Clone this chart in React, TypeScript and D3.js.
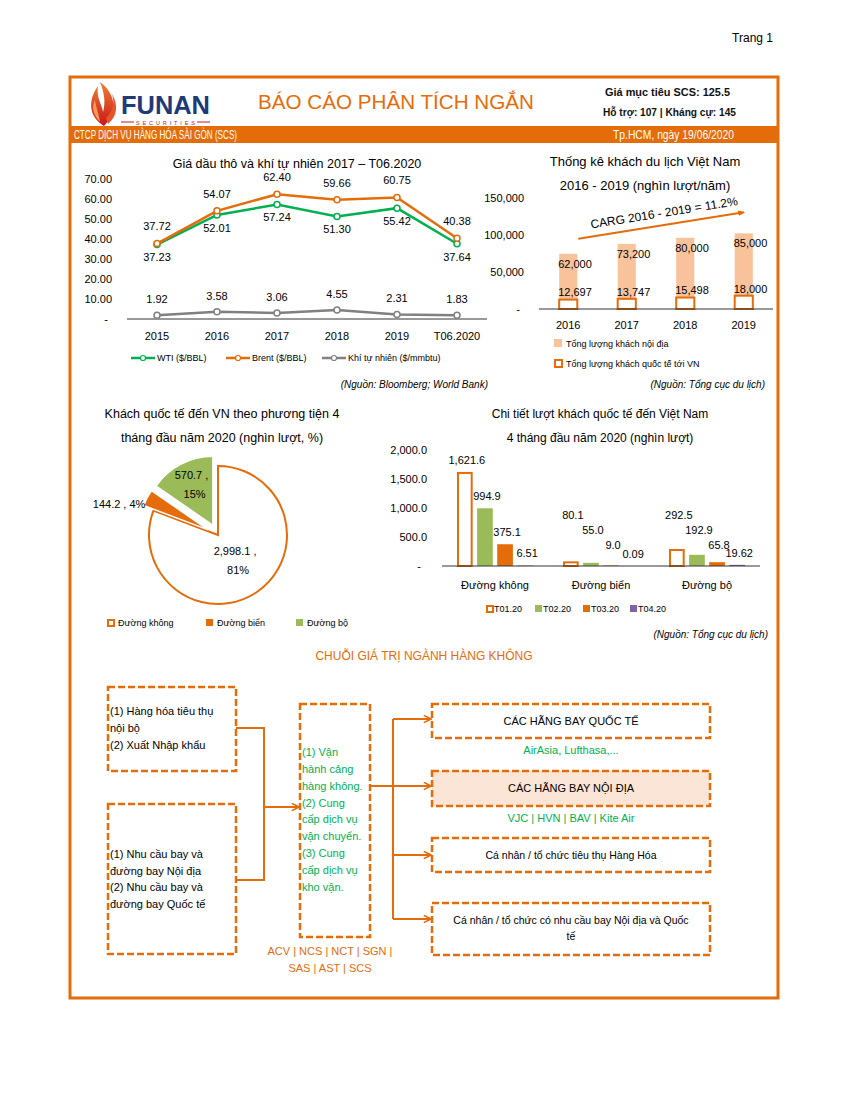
import * as d3 from 'd3'

const FONT = "'Liberation Sans', Arial, sans-serif"
const ORANGE = '#E46C0A'
const GREEN_LINE = '#00B050'
const GREEN_BAR = '#9BBB59'
const PURPLE = '#8064A2'
const PEACH = '#F8C39B'
const GRAY = '#808080'

// --- oil & gas prices
const oilYears = ['2015', '2016', '2017', '2018', '2019', 'T06.2020']
const wti = [37.23, 52.01, 57.24, 51.3, 55.42, 37.64]
const brent = [37.72, 54.07, 62.4, 59.66, 60.75, 40.38]
const gas = [1.92, 3.58, 3.06, 4.55, 2.31, 1.83]
const oilTicks = [0, 10, 20, 30, 40, 50, 60, 70]

// --- tourists 2016-2019
const touristYears = ['2016', '2017', '2018', '2019']
const domestic = [62000, 73200, 80000, 85000]
const international = [12697, 13747, 15498, 18000]
const touristTicks = [0, 50000, 100000, 150000]

// --- pie by transport mode
const pieLabels = ['Đường không', 'Đường biển', 'Đường bộ']
const pieValues = [2998.1, 144.2, 570.7]
const piePct = ['81%', '4%', '15%']

// --- monthly by mode
const modes = ['Đường không', 'Đường biển', 'Đường bộ']
const monthSeries = ['T01.20', 'T02.20', 'T03.20', 'T04.20']
const t01 = [1621.6, 80.1, 292.5]
const t02 = [994.9, 55.0, 192.9]
const t03 = [375.1, 9.0, 65.8]
const t04 = [6.51, 0.09, 19.62]
const monthTicks = [0, 500, 1000, 1500, 2000]

// --- value chain text
const boxA = ['(1) Hàng hóa tiêu thụ', 'nội bộ', '(2) Xuất Nhập khẩu']
const boxB = ['(1) Nhu cầu bay và', 'đường bay Nội địa', '(2) Nhu cầu bay và', 'đường bay Quốc tế']
const boxC = ['(1) Vận', 'hành cảng', 'hàng không.', '(2) Cung', 'cấp dịch vụ', 'vận chuyển.', '(3) Cung', 'cấp dịch vụ', 'kho vận.']
const boxCTickers = ['ACV | NCS | NCT | SGN |', 'SAS | AST | SCS']
const rightBoxes = [
  ['CÁC HÃNG BAY QUỐC TẾ'],
  ['CÁC HÃNG BAY NỘI ĐỊA'],
  ['Cá nhân / tổ chức tiêu thụ Hàng Hóa'],
  ['Cá nhân / tổ chức có nhu cầu bay Nội địa và Quốc', 'tế'],
]
const rightNotes = ['AirAsia, Lufthasa,...', 'VJC | HVN | BAV | Kite Air', '', '']

function T(props: any) {
  const { children, size = 11, anchor = 'start', fill = '#000', weight = 'normal', style, ...rest } = props
  return (
    <text
      fontFamily={FONT}
      fontSize={size}
      textAnchor={anchor}
      fill={fill}
      fontWeight={weight}
      fontStyle={style}
      dy="0.35em"
      {...rest}
    >
      {children}
    </text>
  )
}

function Header() {
  return (
    <g>
      <T x={773} y={38} size={12} anchor="end">Trang 1</T>
      <rect x={70} y={77} width={708} height={921} fill="none" stroke={ORANGE} strokeWidth={3} />
      {/* logo flame */}
      <defs>
        <linearGradient id="flame" x1="0" y1="1" x2="0" y2="0">
          <stop offset="0" stopColor="#C8161D" />
          <stop offset="1" stopColor="#F08030" />
        </linearGradient>
      </defs>
      <path d="M104,126 C88,116 88,100 98,86 C96,98 102,104 103,112 C106,102 104,92 100,82 C116,94 118,112 104,126 Z" fill="url(#flame)" />
      <path d="M108,124 C118,116 118,104 112,94 C116,106 110,114 106,118 Z" fill="#E8542A" />
      <path d="M100,122 C92,114 92,106 95,100 C96,108 99,114 100,122 Z" fill="#F39A5A" />
      <text x={121} y={114} fontFamily={FONT} fontSize={26} fontWeight="bold" fill="#1E3A78" textLength={89} lengthAdjust="spacingAndGlyphs">FUNAN</text>
      <line x1={121} x2={134} y1={122} y2={122} stroke="#C8161D" strokeWidth={1} />
      <line x1={197} x2={210} y1={122} y2={122} stroke="#C8161D" strokeWidth={1} />
      <text x={136} y={124.5} fontFamily={FONT} fontSize={5.5} fill="#C8161D" textLength={59} lengthAdjust="spacing">SECURITIES</text>
      <text x={258} y={109} fontFamily={FONT} fontSize={20} fill={ORANGE} textLength={276} lengthAdjust="spacingAndGlyphs">BÁO CÁO PHÂN TÍCH NGẮN</text>
      <text x={605} y={96} fontFamily={FONT} fontSize={11} fontWeight="bold" fill="#111" textLength={125} lengthAdjust="spacingAndGlyphs">Giá mục tiêu SCS: 125.5</text>
      <text x={603} y={116} fontFamily={FONT} fontSize={11} fontWeight="bold" fill="#111" textLength={133} lengthAdjust="spacingAndGlyphs">Hỗ trợ: 107 | Kháng cự: 145</text>
      <rect x={70} y={126} width={708} height={17} fill={ORANGE} />
      <text x={74} y={139} fontFamily={FONT} fontSize={12} fill="#fff" textLength={163} lengthAdjust="spacingAndGlyphs">CTCP DỊCH VỤ HÀNG HÓA SÀI GÒN (SCS)</text>
      <text x={734} y={139} fontFamily={FONT} fontSize={12} fill="#fff" textAnchor="end" textLength={121} lengthAdjust="spacingAndGlyphs">Tp.HCM, ngày 19/06/2020</text>
    </g>
  )
}

function OilChart() {
  const x = d3.scaleBand().domain(oilYears).range([127, 487])
  const cx = (i: number) => (x(oilYears[i]) ?? 0) + x.bandwidth() / 2
  const y = d3.scaleLinear().domain([0, 70]).range([319, 179])
  const line = d3.line<number>().x((_, i) => cx(i)).y((d) => y(d))
  const fmt = d3.format('.2f')
  const series = [
    { name: 'Khí tự nhiên ($/mmbtu)', values: gas, color: GRAY, dy: -16 },
    { name: 'WTI ($/BBL)', values: wti, color: GREEN_LINE, dy: 13 },
    { name: 'Brent ($/BBL)', values: brent, color: ORANGE, dy: -17 },
  ]
  const legend = [series[1], series[2], series[0]]
  return (
    <g>
      <T x={297} y={164} size={12.5} anchor="middle">Giá dầu thô và khí tự nhiên 2017 – T06.2020</T>
      {oilTicks.map((t) => (
        <T key={t} x={t === 0 ? 108 : 112} y={y(t)} size={11} anchor="end">{t === 0 ? '-' : fmt(t)}</T>
      ))}
      <line x1={127} x2={487} y1={y(0)} y2={y(0)} stroke="#333" strokeWidth={1} />
      {oilYears.map((yr, i) => (
        <T key={yr} x={cx(i)} y={336} size={11} anchor="middle">{yr}</T>
      ))}
      {series.map((s) => (
        <g key={s.name}>
          <path d={line(s.values) ?? ''} fill="none" stroke={s.color} strokeWidth={2.5} />
          {s.values.map((v, i) => (
            <circle key={i} cx={cx(i)} cy={y(v)} r={3} fill="#fff" stroke={s.color} strokeWidth={1.5} />
          ))}
        </g>
      ))}
      {series.map((s) =>
        s.values.map((v, i) => (
          <T key={s.name + i} x={cx(i)} y={y(v) + s.dy} size={11} anchor="middle">{fmt(v)}</T>
        )),
      )}
      {legend.map((s, i) => {
        const lx = [131, 226, 322][i]
        return (
          <g key={s.name}>
            <line x1={lx} x2={lx + 24} y1={358} y2={358} stroke={s.color} strokeWidth={2.5} />
            <circle cx={lx + 12} cy={358} r={2.5} fill="#fff" stroke={s.color} strokeWidth={1.2} />
            <T x={lx + 26} y={358} size={9}>{s.name}</T>
          </g>
        )
      })}
      <T x={488} y={384} size={10} anchor="end" style="italic">(Nguồn: Bloomberg; World Bank)</T>
    </g>
  )
}

function TouristChart() {
  const x = d3.scaleBand().domain(touristYears).range([539, 773])
  const bw = x.step() * 0.31
  const cx = (i: number) => (x(touristYears[i]) ?? 0) + x.bandwidth() / 2
  const y = d3.scaleLinear().domain([0, 150000]).range([309, 198])
  // domestic series sits on a hidden secondary axis
  const y2 = d3.scaleLinear().domain([0, 100000]).range([309, 220])
  const fmt = d3.format(',')
  const arrowEnd = { x: cx(3), y: y2(domestic[3]) - 21 }
  const arrowStart = { x: cx(0) + 10, y: y2(domestic[0]) - 15 }
  const ang = (Math.atan2(arrowEnd.y - arrowStart.y, arrowEnd.x - arrowStart.x) * 180) / Math.PI
  return (
    <g>
      <T x={645} y={161} size={13} anchor="middle">Thống kê khách du lịch Việt Nam</T>
      <T x={645} y={185} size={13} anchor="middle">2016 - 2019 (nghìn lượt/năm)</T>
      {touristTicks.map((t) => (
        <T key={t} x={t === 0 ? 520 : 524} y={y(t)} size={11} anchor="end">{t === 0 ? '-' : fmt(t)}</T>
      ))}
      {domestic.map((v, i) => (
        <rect key={'d' + i} x={cx(i) - bw / 2} y={y2(v)} width={bw} height={y2(0) - y2(v)} fill={PEACH} />
      ))}
      {international.map((v, i) => (
        <rect key={'n' + i} x={cx(i) - bw / 2} y={y(v)} width={bw} height={y(0) - y(v)} fill="#fff" stroke={ORANGE} strokeWidth={2} />
      ))}
      <line x1={539} x2={773} y1={y(0)} y2={y(0)} stroke="#333" strokeWidth={1} />
      {domestic.map((v, i) => (
        <T key={'dl' + i} x={cx(i) - bw / 2 - 1} y={y2(v) + 10} size={11}>{fmt(v)}</T>
      ))}
      {international.map((v, i) => (
        <T key={'nl' + i} x={cx(i) - bw / 2 - 1} y={y(v) - 7} size={11}>{fmt(v)}</T>
      ))}
      {touristYears.map((yr, i) => (
        <T key={yr} x={cx(i)} y={325} size={11} anchor="middle">{yr}</T>
      ))}
      <defs>
        <marker id="tri" viewBox="0 0 10 10" refX={8} refY={5} markerWidth={7} markerHeight={7} orient="auto" markerUnits="userSpaceOnUse">
          <path d="M0,1 L10,5 L0,9 Z" fill={ORANGE} />
        </marker>
      </defs>
      <line x1={arrowStart.x} y1={arrowStart.y} x2={arrowEnd.x} y2={arrowEnd.y} stroke={ORANGE} strokeWidth={2} markerEnd="url(#tri)" />
      <T x={0} y={0} size={12} anchor="middle" transform={`translate(664,${(arrowStart.y + arrowEnd.y) / 2 - 13}) rotate(${ang})`}>CARG 2016 - 2019 = 11.2%</T>
      <rect x={554} y={339} width={8} height={8} fill={PEACH} />
      <T x={566} y={344} size={9}>Tổng lượng khách nội địa</T>
      <rect x={555} y={360} width={7} height={7} fill="#fff" stroke={ORANGE} strokeWidth={2} />
      <T x={566} y={364} size={9}>Tổng lượng khách quốc tế tới VN</T>
      <T x={765} y={384} size={10} anchor="end" style="italic">(Nguồn: Tổng cục du lịch)</T>
    </g>
  )
}

function PieChart() {
  const c = { x: 218, y: 535 }
  const r = 69
  const arcs = d3.pie<number>().sort(null).value((d) => d)(pieValues)
  const arc = d3.arc<d3.PieArcDatum<number>>().innerRadius(0).outerRadius(r)
  const explode = [0, 11, 11]
  const fills = ['#fff', ORANGE, GREEN_BAR]
  const strokes = [ORANGE, '#fff', '#fff']
  const fmt = d3.format(',.1f')
  const dir = (a: d3.PieArcDatum<number>) => {
    const m = (a.startAngle + a.endAngle) / 2
    return [Math.sin(m), -Math.cos(m)]
  }
  return (
    <g>
      <T x={222} y={414} size={12.5} anchor="middle">Khách quốc tế đến VN theo phương tiện 4</T>
      <T x={222} y={438} size={12.5} anchor="middle">tháng đầu năm 2020 (nghìn lượt, %)</T>
      {arcs.map((a, i) => {
        const [dx, dy] = dir(a)
        return (
          <path
            key={i}
            d={arc(a) ?? ''}
            transform={`translate(${c.x + dx * explode[i]},${c.y + dy * explode[i]})`}
            fill={fills[i]}
            stroke={strokes[i]}
            strokeWidth={i === 0 ? 2 : 1.5}
          />
        )
      })}
      {arcs.map((a, i) => {
        const [dx, dy] = dir(a)
        if (i === 1) {
          return (
            <T key={i} x={c.x + dx * 82} y={c.y + dy * 82 + 7} size={11} anchor="end">
              {`${fmt(a.data)} , ${piePct[i]}`}
            </T>
          )
        }
        const rr = i === 0 ? 30 : 46
        const lx = c.x + dx * (rr + explode[i])
        const ly = c.y + dy * (rr + explode[i])
        return (
          <g key={i}>
            <T x={lx} y={ly - 9} size={11} anchor="middle">{`${fmt(a.data)} ,`}</T>
            <T x={lx + 3} y={ly + 10} size={11} anchor="middle">{piePct[i]}</T>
          </g>
        )
      })}
      {pieLabels.map((l, i) => {
        const lx = [107, 206, 296][i]
        return (
          <g key={l}>
            {i === 0 ? (
              <rect x={lx + 1} y={620} width={6} height={6} fill="#fff" stroke={ORANGE} strokeWidth={2} />
            ) : (
              <rect x={lx} y={619} width={7} height={7} fill={fills[i]} />
            )}
            <T x={lx + 11} y={623} size={9}>{l}</T>
          </g>
        )
      })}
    </g>
  )
}

function MonthChart() {
  const x = d3.scaleBand().domain(modes).range([442, 760])
  const inner = d3.scaleBand().domain(monthSeries).range([-38, 38]).paddingInner(0.22)
  const y = d3.scaleLinear().domain([0, 2000]).range([566, 450])
  const fmtTick = d3.format(',.1f')
  const data = [t01, t02, t03, t04]
  const fmts = [d3.format(',.1f'), d3.format(',.1f'), d3.format(',.1f'), d3.format(',.2f')]
  const fills = ['#fff', GREEN_BAR, ORANGE, PURPLE]
  const gc = (j: number) => (x(modes[j]) ?? 0) + x.bandwidth() / 2
  return (
    <g>
      <T x={600} y={414} size={12} anchor="middle">Chi tiết lượt khách quốc tế đến Việt Nam</T>
      <T x={600} y={438} size={12} anchor="middle">4 tháng đầu năm 2020 (nghìn lượt)</T>
      {monthTicks.map((t) => (
        <T key={t} x={t === 0 ? 421 : 427} y={y(t)} size={11} anchor="end">{t === 0 ? '-' : fmtTick(t)}</T>
      ))}
      {data.map((vals, i) =>
        vals.map((v, j) => {
          const bx = gc(j) + (inner(monthSeries[i]) ?? 0)
          return i === 0 ? (
            <rect key={i + '-' + j} x={bx + 1} y={y(v) + 1} width={inner.bandwidth() - 2} height={y(0) - y(v) - 1} fill="#fff" stroke={ORANGE} strokeWidth={2} />
          ) : (
            <rect key={i + '-' + j} x={bx} y={y(v)} width={inner.bandwidth()} height={y(0) - y(v)} fill={fills[i]} />
          )
        }),
      )}
      <line x1={442} x2={760} y1={y(0)} y2={y(0)} stroke="#333" strokeWidth={1} />
      {data.map((vals, i) =>
        vals.map((v, j) => {
          const bx = gc(j) + (inner(monthSeries[i]) ?? 0) + inner.bandwidth() / 2
          const ly = Math.min(y(v) - 12, y(0) - 51 + 15 * i)
          return (
            <T key={'l' + i + '-' + j} x={bx + 2} y={ly} size={11} anchor="middle">{fmts[i](v)}</T>
          )
        }),
      )}
      {modes.map((m, j) => (
        <T key={m} x={gc(j)} y={585} size={11} anchor="middle">{m}</T>
      ))}
      {monthSeries.map((s, i) => {
        const lx = [486, 535, 583, 630][i]
        return (
          <g key={s}>
            {i === 0 ? (
              <rect x={lx + 1} y={606} width={6} height={6} fill="#fff" stroke={ORANGE} strokeWidth={2} />
            ) : (
              <rect x={lx} y={605} width={7} height={7} fill={fills[i]} />
            )}
            <T x={lx + 8} y={609} size={9}>{s}</T>
          </g>
        )
      })}
      <T x={768} y={634} size={10} anchor="end" style="italic">(Nguồn: Tổng cục du lịch)</T>
    </g>
  )
}

function ValueChain() {
  const dash = { fill: 'none', stroke: ORANGE, strokeWidth: 2.5, strokeDasharray: '7 3' }
  const rightY = [704, 771, 838, 903]
  const rightH = [34, 35, 34, 52]
  const arrowY = [719, 786, 855, 919]
  return (
    <g>
      <defs>
        <marker id="chev" viewBox="0 0 10 10" refX={9} refY={5} markerWidth={9} markerHeight={9} orient="auto" markerUnits="userSpaceOnUse">
          <path d="M1,1 L9,5 L1,9" fill="none" stroke={ORANGE} strokeWidth={1.8} />
        </marker>
      </defs>
      <T x={424} y={656} size={12} anchor="middle" fill={ORANGE}>CHUỖI GIÁ TRỊ NGÀNH HÀNG KHÔNG</T>

      <rect x={108} y={687} width={128} height={84} {...dash} />
      {boxA.map((t, i) => (
        <T key={t} x={110} y={711 + i * 17} size={11}>{t}</T>
      ))}
      <rect x={108} y={804} width={128} height={150} {...dash} />
      {boxB.map((t, i) => (
        <T key={t} x={110} y={854 + i * 16.7} size={11}>{t}</T>
      ))}

      <path d="M236,728 H264 V880 H236" fill="none" stroke={ORANGE} strokeWidth={2} />
      <line x1={264} x2={299} y1={807} y2={807} stroke={ORANGE} strokeWidth={2} markerEnd="url(#chev)" />

      <rect x={300} y={704} width={70} height={233} {...dash} />
      {boxC.map((t, i) => (
        <T key={i} x={302} y={752 + i * 16.9} size={11} fill={GREEN_LINE}>{t}</T>
      ))}
      {boxCTickers.map((t, i) => (
        <T key={t} x={330} y={951 + i * 17} size={11} anchor="middle" fill={ORANGE}>{t}</T>
      ))}

      <line x1={370} x2={393} y1={786} y2={786} stroke={ORANGE} strokeWidth={2} />
      <line x1={393} x2={393} y1={arrowY[0]} y2={arrowY[3]} stroke={ORANGE} strokeWidth={2} />
      {arrowY.map((ay) => (
        <line key={ay} x1={393} x2={431} y1={ay} y2={ay} stroke={ORANGE} strokeWidth={2} markerEnd="url(#chev)" />
      ))}

      {rightBoxes.map((lines, i) => (
        <g key={i}>
          <rect x={432} y={rightY[i]} width={278} height={rightH[i]} {...dash} fill={i === 1 ? '#FBE5D6' : 'none'} />
          {lines.map((t, k) => (
            <T key={k} x={571} y={rightY[i] + (lines.length > 1 ? 17 + k * 16 : rightH[i] / 2)} size={i < 2 ? 11 : 10.5} anchor="middle">{t}</T>
          ))}
          {rightNotes[i] && (
            <T x={571} y={rightY[i] + rightH[i] + 12} size={11} anchor="middle" fill={GREEN_LINE}>{rightNotes[i]}</T>
          )}
        </g>
      ))}
    </g>
  )
}

export default function App() {
  return (
    <svg
      width={850}
      height={1100}
      viewBox="0 0 850 1100"
      style={{ position: 'absolute', left: 0, top: 0, background: '#fff', display: 'block' }}
    >
      <rect width={850} height={1100} fill="#fff" />
      <Header />
      <OilChart />
      <TouristChart />
      <PieChart />
      <MonthChart />
      <ValueChain />
    </svg>
  )
}
